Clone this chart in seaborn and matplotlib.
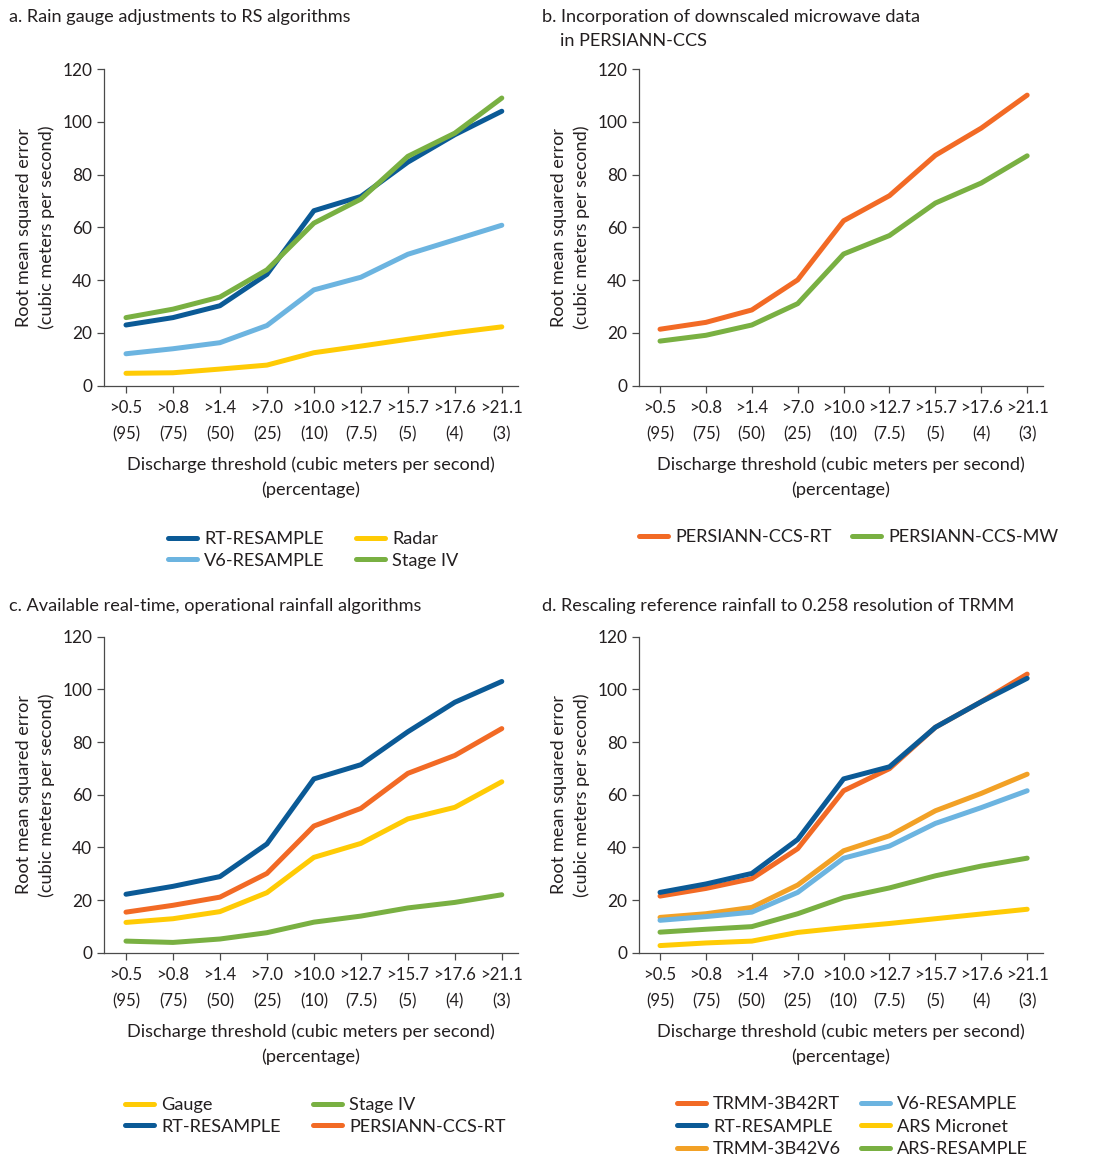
import numpy as np
import pandas as pd
import matplotlib
matplotlib.use("Agg")
import matplotlib.pyplot as plt
from matplotlib.lines import Line2D
import seaborn as sns

# Discharge thresholds (cubic meters per second) and exceedance percentages
thresholds = [">0.5", ">0.8", ">1.4", ">7.0", ">10.0", ">12.7", ">15.7", ">17.6", ">21.1"]
percentages = ["(95)", "(75)", "(50)", "(25)", "(10)", "(7.5)", "(5)", "(4)", "(3)"]

# Panel a: rain gauge adjustments to RS algorithms
a_rt_resample = [23.0, 25.8, 30.3, 42.2, 66.3, 71.7, 84.7, 95.1, 104.0]
a_v6_resample = [12.1, 14.0, 16.3, 22.8, 36.3, 41.1, 49.8, 55.3, 60.8]
a_radar = [4.7, 4.9, 6.3, 7.8, 12.5, 15.0, 17.6, 20.1, 22.3]
a_stage_iv = [25.8, 29.0, 33.6, 43.9, 61.6, 70.7, 86.9, 95.7, 109.0]

# Panel b: downscaled microwave data in PERSIANN-CCS
b_ccs_rt = [21.4, 24.0, 28.7, 40.1, 62.5, 72.0, 87.3, 97.6, 110.1]
b_ccs_mw = [16.9, 19.1, 23.0, 31.1, 49.9, 56.9, 69.2, 76.8, 87.1]

# Panel c: real-time operational rainfall algorithms
c_gauge = [11.5, 12.9, 15.6, 22.8, 36.2, 41.5, 50.8, 55.2, 64.9]
c_rt_resample = [22.2, 25.2, 28.9, 41.3, 66.0, 71.4, 83.9, 95.1, 103.0]
c_stage_iv = [4.4, 3.9, 5.2, 7.6, 11.6, 13.9, 17.0, 19.1, 22.0]
c_ccs_rt = [15.4, 18.0, 21.1, 30.1, 48.1, 54.8, 68.1, 74.9, 85.1]

# Panel d: reference rainfall rescaled to TRMM resolution
d_trmm_rt = [21.5, 24.4, 28.1, 39.5, 61.5, 69.9, 85.6, 95.3, 105.8]
d_rt_resample = [22.9, 26.1, 30.1, 43.0, 66.0, 70.6, 85.6, 95.3, 104.2]
d_trmm_v6 = [13.4, 14.8, 17.2, 25.7, 38.7, 44.4, 53.9, 60.5, 67.8]
d_v6_resample = [12.3, 13.7, 15.4, 22.9, 35.9, 40.5, 49.1, 55.1, 61.5]
d_ars_micronet = [2.7, 3.7, 4.4, 7.7, 9.5, 11.1, 12.9, 14.7, 16.5]
d_ars_resample = [7.8, 8.9, 9.9, 14.8, 20.9, 24.6, 29.2, 32.9, 35.9]

DARK_BLUE = "#0b5a96"
LIGHT_BLUE = "#6cb4e0"
YELLOW = "#ffcb05"
GREEN = "#79b042"
ORANGE = "#f26a25"
AMBER = "#f2a126"
TEXT = "#231f20"
AXIS = "#4a4a4a"

sns.set_theme(style="ticks")
plt.rcParams["font.family"] = ["Lato", "DejaVu Sans"]
plt.rcParams["text.color"] = TEXT
plt.rcParams["axes.labelcolor"] = TEXT
plt.rcParams["xtick.color"] = AXIS
plt.rcParams["ytick.color"] = AXIS
plt.rcParams["xtick.labelcolor"] = TEXT
plt.rcParams["ytick.labelcolor"] = TEXT

FS = 13.1
TICK_FS = 12.1
W, H = 1093, 1163
fig = plt.figure(figsize=(W / 100, H / 100), dpi=100)


def px_axes(left, right, y0, y120):
    return fig.add_axes([left / W, 1 - y0 / H, (right - left) / W, (y0 - y120) / H])


def draw_panel(ax, series, x_left):
    names = list(series.keys())
    rows = []
    for name, (vals, _) in series.items():
        for i, v in enumerate(vals):
            rows.append({"pos": i, "rmse": v, "series": name})
    df = pd.DataFrame(rows)
    palette = {n: c for n, (_, c) in series.items()}
    sns.lineplot(data=df, x="pos", y="rmse", hue="series", hue_order=names,
                 palette=palette, linewidth=3.6, legend=False, ax=ax,
                 solid_capstyle="round", solid_joinstyle="round")
    ax.set_xlim(x_left, 8.345)
    ax.set_ylim(0, 120)
    ax.set_yticks(np.arange(0, 121, 20))
    ax.set_xticks(range(len(thresholds)))
    ax.set_xticklabels([f"{t}\n{p}" for t, p in zip(thresholds, percentages)],
                       linespacing=1.85)
    ax.tick_params(axis="both", labelsize=TICK_FS, length=5, width=0.9, pad=3.5)
    ax.tick_params(axis="y", labelsize=12.4)
    ax.tick_params(axis="x", pad=5)
    for s in ("top", "right"):
        ax.spines[s].set_visible(False)
    for s in ("left", "bottom"):
        ax.spines[s].set_color(AXIS)
        ax.spines[s].set_linewidth(0.9)
    ax.set_xlabel("Discharge threshold (cubic meters per second)\n(percentage)",
                  fontsize=FS, linespacing=1.65, labelpad=9.5)
    ax.set_ylabel("Root mean squared error\n(cubic meters per second)",
                  fontsize=FS, linespacing=1.5, labelpad=5)


def column_legend(entries, x_px, y_px, spacing=0.31):
    handles = [Line2D([0], [0], color=c, lw=3.6, solid_capstyle="round") for _, c in entries]
    labels = [n for n, _ in entries]
    fig.legend(handles, labels, loc="upper left",
               bbox_to_anchor=(x_px / W, 1 - y_px / H),
               frameon=False, fontsize=FS, borderpad=0, borderaxespad=0,
               handlelength=1.6, handletextpad=0.38, labelspacing=spacing)


ax_a = px_axes(104, 518, 385.7, 69)
draw_panel(ax_a, {
    "RT-RESAMPLE": (a_rt_resample, DARK_BLUE),
    "V6-RESAMPLE": (a_v6_resample, LIGHT_BLUE),
    "Radar": (a_radar, YELLOW),
    "Stage IV": (a_stage_iv, GREEN),
}, -0.468)

ax_b = px_axes(639, 1043, 385.7, 69)
draw_panel(ax_b, {
    "PERSIANN-CCS-RT": (b_ccs_rt, ORANGE),
    "PERSIANN-CCS-MW": (b_ccs_mw, GREEN),
}, -0.458)

ax_c = px_axes(104, 518, 952.7, 636.7)
draw_panel(ax_c, {
    "Gauge": (c_gauge, YELLOW),
    "RT-RESAMPLE": (c_rt_resample, DARK_BLUE),
    "Stage IV": (c_stage_iv, GREEN),
    "PERSIANN-CCS-RT": (c_ccs_rt, ORANGE),
}, -0.468)

ax_d = px_axes(639, 1043, 952.7, 636.7)
draw_panel(ax_d, {
    "TRMM-3B42RT": (d_trmm_rt, ORANGE),
    "RT-RESAMPLE": (d_rt_resample, DARK_BLUE),
    "TRMM-3B42V6": (d_trmm_v6, AMBER),
    "V6-RESAMPLE": (d_v6_resample, LIGHT_BLUE),
    "ARS Micronet": (d_ars_micronet, YELLOW),
    "ARS-RESAMPLE": (d_ars_resample, GREEN),
}, -0.458)

# Panel titles
fig.text(9 / W, 1 - 17 / H, "a. Rain gauge adjustments to RS algorithms",
         fontsize=FS, va="center", ha="left")
fig.text(542 / W, 1 - 17 / H, "b. Incorporation of downscaled microwave data",
         fontsize=FS, va="center", ha="left")
fig.text(560 / W, 1 - 41 / H, "in PERSIANN-CCS",
         fontsize=FS, va="center", ha="left")
fig.text(9 / W, 1 - 606 / H, "c. Available real-time, operational rainfall algorithms",
         fontsize=FS, va="center", ha="left")
fig.text(542 / W, 1 - 606 / H, "d. Rescaling reference rainfall to 0.258 resolution of TRMM",
         fontsize=FS, va="center", ha="left")

# Legends, one per column
column_legend([("RT-RESAMPLE", DARK_BLUE), ("V6-RESAMPLE", LIGHT_BLUE)], 168, 531)
column_legend([("Radar", YELLOW), ("Stage IV", GREEN)], 356, 531)
column_legend([("PERSIANN-CCS-RT", ORANGE)], 639, 529)
column_legend([("PERSIANN-CCS-MW", GREEN)], 852, 529)
column_legend([("Gauge", YELLOW), ("RT-RESAMPLE", DARK_BLUE)], 125, 1097)
column_legend([("Stage IV", GREEN), ("PERSIANN-CCS-RT", ORANGE)], 313, 1097)
column_legend([("TRMM-3B42RT", ORANGE), ("RT-RESAMPLE", DARK_BLUE),
               ("TRMM-3B42V6", AMBER)], 677, 1096, spacing=0.36)
column_legend([("V6-RESAMPLE", LIGHT_BLUE), ("ARS Micronet", YELLOW),
               ("ARS-RESAMPLE", GREEN)], 861, 1096, spacing=0.36)

fig.savefig("out.png", dpi=100, facecolor="white")
